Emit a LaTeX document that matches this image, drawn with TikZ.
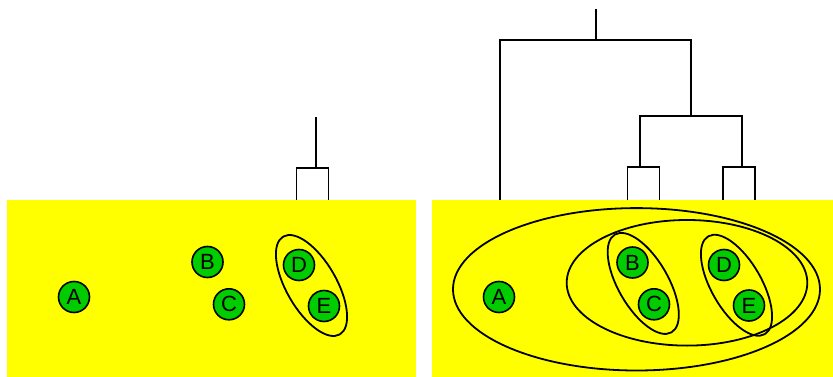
\documentclass[tikz,border=0pt]{standalone}
\usepackage{fontspec}
\setmainfont{Liberation Sans}
\usetikzlibrary{calc}
\definecolor{leafgreen}{RGB}{0,204,0}
\definecolor{panelyellow}{RGB}{255,255,0}

\begin{document}
\begin{tikzpicture}[x=1pt,y=-1pt,
  leaf/.style={circle,draw=black,line width=1.6pt,fill=leafgreen,minimum size=31pt,inner sep=0pt,font=\fontsize{22}{22}\selectfont},
  clust/.style={draw=black,line width=1.8pt},
  tree/.style={draw=black,line width=1.8pt}]
\useasboundingbox (0,0) rectangle (833,377);
% \draw[help lines] (0,0) grid (833,377);
\fill[panelyellow] (7,200) rectangle (416,377);
\fill[panelyellow] (432,200) rectangle (833,377);
%
\node (a1) [leaf] at (74,297) {A};
\node (b1) [leaf] at (207.5,262) {B};
\node (c1) [leaf] at (229,304.3) {C};
\node (d1) [leaf] at (299,265) {D};
\node (e1) [leaf] at (324,306) {E};
%
\node (a2) [leaf] at (499,297) {A};
\node (b2) [leaf] at (632.5,262.5) {B};
\node (c2) [leaf] at (654,304.3) {C};
\node (d2) [leaf] at (724,265) {D};
\node (e2) [leaf] at (749,305.5) {E};
%
\draw[clust,rotate around={-60:($(d1)!0.5!(e1)$)}] ($(d1)!0.5!(e1)$) ellipse [x radius=56.5,y radius=25];
\draw[clust,rotate around={-60:($(b2)!0.5!(c2)$)}] ($(b2)!0.5!(c2)$) ellipse [x radius=56.5,y radius=25];
\draw[clust,rotate around={-60:($(d2)!0.5!(e2)$)}] ($(d2)!0.5!(e2)$) ellipse [x radius=56.5,y radius=25];
\draw[clust] (687,282.8) ellipse [x radius=120.3,y radius=62.8];
\draw[clust] (636.5,289.3) ellipse [x radius=183.5,y radius=81.2];
%
\coordinate (t1) at (315.7,117);
\coordinate (j1) at (315.7,168);
\coordinate (l1) at (296.5,200);
\coordinate (r1) at (328.5,200);
\draw[tree] (t1) -- (j1);
\draw[tree] (l1) |- (j1) -| (r1);
%
\coordinate (t2) at (596,9);
\coordinate (j2) at (596,40);
\coordinate (l2) at (500,200);
\coordinate (r2) at (691,116);
\coordinate (jbc) at (640.3,167);
\coordinate (jde) at (742.3,167);
\coordinate (lbc) at (627.5,200);
\coordinate (rbc) at (659.5,200);
\coordinate (lde) at (722.7,200);
\coordinate (rde) at (754.7,200);
\draw[tree] (t2) -- (j2);
\draw[tree] (l2) |- (j2) -| (r2);
\draw[tree] (jbc) |- (r2) -| (jde);
\draw[tree] (lbc) |- (jbc) -| (rbc);
\draw[tree] (lde) |- (jde) -| (rde);
%
\end{tikzpicture}
\end{document}
